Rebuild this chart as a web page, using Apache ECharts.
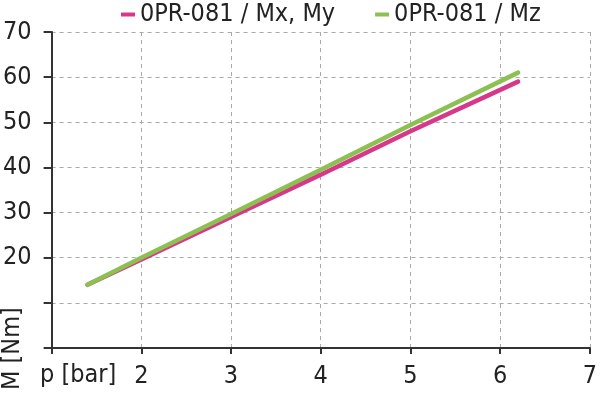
<!DOCTYPE html>
<html><head><meta charset="utf-8">
<script src="https://cdn.jsdelivr.net/npm/echarts@6/dist/echarts.min.js"></script>
<style>html,body{margin:0;padding:0;background:#fff}#c{width:600px;height:393px}</style>
</head><body><div id="c"></div>
<script>
var seriesNames = ['0PR-081 / Mx, My', '0PR-081 / Mz'];
var pressure = [1.4, 2, 3, 4, 5, 6.2];
var momentMxMy = [14, 19.6, 29, 38.4, 48, 59];
var momentMz = [14, 20, 29.7, 39.5, 49.4, 61];
var xTickLabels = {2:'2',3:'3',4:'4',5:'5',6:'6',7:'7'};
var yTickLabels = {20:'20',30:'30',40:'40',50:'50',60:'60',70:'70'};
var colors = ['#d8388a', '#8cc152'];
var FONT = 'DejaVu Sans Condensed';
var FS = 25;

function pairs(xs, ys){ return xs.map(function(x,i){ return [x, ys[i]]; }); }

var chart = echarts.init(document.getElementById('c'));
chart.setOption({
  animation: false,
  textStyle: {fontFamily: FONT},
  legend: {
    top: -3, left: 116, itemGap: 40,
    icon: 'rect', itemWidth: 14, itemHeight: 4,
    textStyle: {fontFamily: FONT, fontSize: FS, color: '#222'},
    data: seriesNames
  },
  grid: {left: 49, right: 5, top: 32, bottom: 45},
  xAxis: {
    type: 'value', min: 1, max: 7, interval: 1,
    axisLine: {show: true, onZero: false, lineStyle: {color: '#333', width: 2}},
    axisTick: {show: true, inside: false, length: 6, lineStyle: {color: '#333', width: 2}},
    axisLabel: {fontFamily: FONT, fontSize: FS, color: '#222', margin: 16,
      formatter: function(v){ return xTickLabels[v] || ''; }},
    splitLine: {show: true, lineStyle: {color: '#aaa', type: [4,4], width: 1}}
  },
  yAxis: {
    type: 'value', min: 0, max: 70, interval: 10,
    axisLine: {show: true, lineStyle: {color: '#333', width: 2}},
    axisTick: {show: true, inside: false, length: 8, lineStyle: {color: '#333', width: 2}},
    axisLabel: {fontFamily: FONT, fontSize: FS, color: '#222', margin: 20,
      formatter: function(v){ return yTickLabels[v] || ''; }},
    splitLine: {show: true, lineStyle: {color: '#aaa', type: [4,4], width: 1}}
  },
  graphic: [
    {type: 'text', left: 40, top: 363, style: {text: 'p [bar]', font: FS + 'px "' + FONT + '"', fill: '#222'}},
    {type: 'text', x: 0, y: 390, rotation: Math.PI/2, style: {text: 'M [Nm]', font: FS + 'px "' + FONT + '"', fill: '#222'}}
  ],
  series: [
    {name: seriesNames[0], type: 'line', data: pairs(pressure, momentMxMy), symbol: 'none',
      lineStyle: {color: colors[0], width: 4.5, cap: 'round'}, itemStyle: {color: colors[0]}},
    {name: seriesNames[1], type: 'line', data: pairs(pressure, momentMz), symbol: 'none',
      lineStyle: {color: colors[1], width: 4.5, cap: 'round'}, itemStyle: {color: colors[1]}}
  ]
});
</script></body></html>
